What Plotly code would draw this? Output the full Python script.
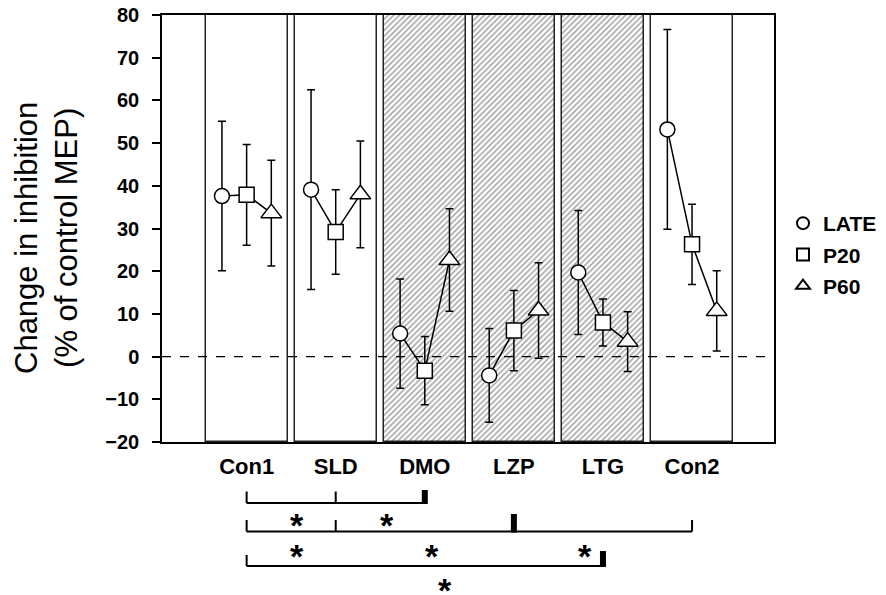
import plotly.graph_objects as go

# ---------------- data ----------------
categories = ["Con1", "SLD", "DMO", "LZP", "LTG", "Con2"]
drug_panel = [False, False, True, True, True, False]

series_names = ["LATE", "P20", "P60"]
late = [37.6, 39.1, 5.4, -4.4, 19.7, 53.2]
late_err = [17.5, 23.4, 12.8, 11.0, 14.5, 23.4]
p20 = [37.9, 29.2, -3.3, 6.1, 8.0, 26.3]
p20_err = [11.8, 9.9, 8.0, 9.4, 5.5, 9.4]
p60 = [33.6, 38.0, 22.6, 10.8, 3.5, 10.7]
p60_err = [12.4, 12.5, 12.0, 11.2, 7.0, 9.4]

y_ticks = [-20, -10, 0, 10, 20, 30, 40, 50, 60, 70, 80]
y_title = "Change in inhibition<br>(% of control MEP)"

# significance brackets: (start category, end category, middle ticks, thick tick)
brackets = [
    ("Con1", "DMO", ["SLD"], "DMO"),
    ("Con1", "Con2", ["SLD", "Con2"], "LZP"),
    ("Con1", "LTG", [], "LTG"),
]
# stars: (x position in category units, bracket row)
star_x = [0.56, 1.58, 0.56, 2.08, 3.80, 2.23]
star_row = [1, 1, 2, 2, 2, 3]

# ---------------- layout constants ----------------
W, H = 886, 595
L, R, T, B = 162, 112, 15, 153
PH = H - T - B
FONT = "Liberation Sans, Arial, Helvetica, sans-serif"
offsets = [-0.277, 0.0, 0.277]
symbols = ["circle", "square", "triangle-up"]
sizes = [15, 15, 18]


def paper_y(px):
    return (H - B - px) / PH


def paper_x(px):
    return (px - L) / (W - L - R)


idx = list(range(len(categories)))
pos = {c: i for i, c in enumerate(categories)}
ymin, ymax = y_ticks[0], y_ticks[-1]

fig = go.Figure()

# panels
fig.add_trace(go.Bar(
    x=idx, y=[ymax - ymin] * len(idx), base=ymin, width=0.92,
    marker=dict(
        color="white",
        line=dict(color="#222222", width=1.5),
        pattern=dict(shape=["/" if d else "" for d in drug_panel],
                     fgcolor="#4a4a4a", bgcolor="white", size=4,
                     solidity=0.38, fillmode="overlay"),
    ),
    showlegend=False, hoverinfo="skip",
))

vals = [late, p20, p60]
errs = [late_err, p20_err, p60_err]

# connecting lines within each panel
for i in idx:
    fig.add_trace(go.Scatter(
        x=[i + o for o in offsets], y=[v[i] for v in vals],
        mode="lines", line=dict(color="black", width=1.5),
        showlegend=False, hoverinfo="skip",
    ))

# series markers with error bars
for k, name in enumerate(series_names):
    fig.add_trace(go.Scatter(
        x=[i + offsets[k] for i in idx], y=vals[k], name=name,
        mode="markers", legendgroup=name,
        marker=dict(symbol=symbols[k], size=sizes[k], color="white",
                    line=dict(color="black", width=1.5)),
        error_y=dict(type="data", array=errs[k], color="black",
                     thickness=1.5, width=4),
    ))

shapes = []
# dashed zero line
shapes.append(dict(type="line", xref="paper", yref="y", x0=0, x1=1, y0=0, y1=0,
                   line=dict(color="black", width=1.2, dash="dash"), layer="above"))

# bracket rows
row_line = [503, 531.5, 566]
row_tick = [491.5, 520, 555]
row_thick = [490, 514, 551]
for r, (a, b, mids, thick) in enumerate(brackets):
    yl = paper_y(row_line[r])
    yt = paper_y(row_tick[r])
    shapes.append(dict(type="line", xref="x", yref="paper", x0=pos[a], x1=pos[b],
                       y0=yl, y1=yl, line=dict(color="black", width=2)))
    for c in [a] + mids:
        shapes.append(dict(type="line", xref="x", yref="paper", x0=pos[c], x1=pos[c],
                           y0=yl, y1=yt, line=dict(color="black", width=2)))
    shapes.append(dict(type="line", xref="x", yref="paper", x0=pos[thick], x1=pos[thick],
                       y0=paper_y(row_line[r] + 1), y1=paper_y(row_thick[r]),
                       line=dict(color="black", width=6)))

annotations = []
star_center = [None, 520, 551, 585]
for sx, sr in zip(star_x, star_row):
    annotations.append(dict(x=sx, y=paper_y(star_center[sr] + 5), xref="x", yref="paper",
                            text="*", showarrow=False, xanchor="center", yanchor="middle",
                            font=dict(family=FONT, size=34, color="black", weight="bold")))

# y-axis title (rotated)
annotations.append(dict(x=paper_x(46), y=paper_y(238), xref="paper", yref="paper",
                        text=y_title, textangle=-90, showarrow=False,
                        xanchor="center", yanchor="middle",
                        font=dict(family=FONT, size=31, color="black")))

fig.update_layout(
    width=W, height=H,
    margin=dict(l=L, r=R, t=T, b=B, autoexpand=False),
    paper_bgcolor="white", plot_bgcolor="white",
    font=dict(family=FONT, color="black"),
    bargap=0,
    shapes=shapes, annotations=annotations,
    showlegend=True,
    legend=dict(x=paper_x(783), y=paper_y(203), xanchor="left", yanchor="top",
                font=dict(family=FONT, size=21, color="black", weight="bold"),
                traceorder="grouped", tracegroupgap=1, itemsizing="constant",
                bgcolor="rgba(0,0,0,0)"),
    xaxis=dict(range=[-0.95, 5.92], tickmode="array", tickvals=idx, ticktext=categories,
               showline=True, mirror=True, linecolor="black", linewidth=1.5,
               showgrid=False, zeroline=False, ticks="",
               tickfont=dict(family=FONT, size=22, color="black", weight="bold"),
               ticklabelstandoff=4, fixedrange=True),
    yaxis=dict(range=[ymin, ymax], tickmode="array", tickvals=y_ticks,
               showline=True, mirror=True, linecolor="black", linewidth=1.5,
               showgrid=False, zeroline=False, ticks="outside", ticklen=8,
               tickwidth=1.5, tickcolor="black",
               tickfont=dict(family=FONT, size=20, color="black", weight="bold"),
               ticklabelstandoff=9, fixedrange=True),
)

fig.write_html("out.html")
